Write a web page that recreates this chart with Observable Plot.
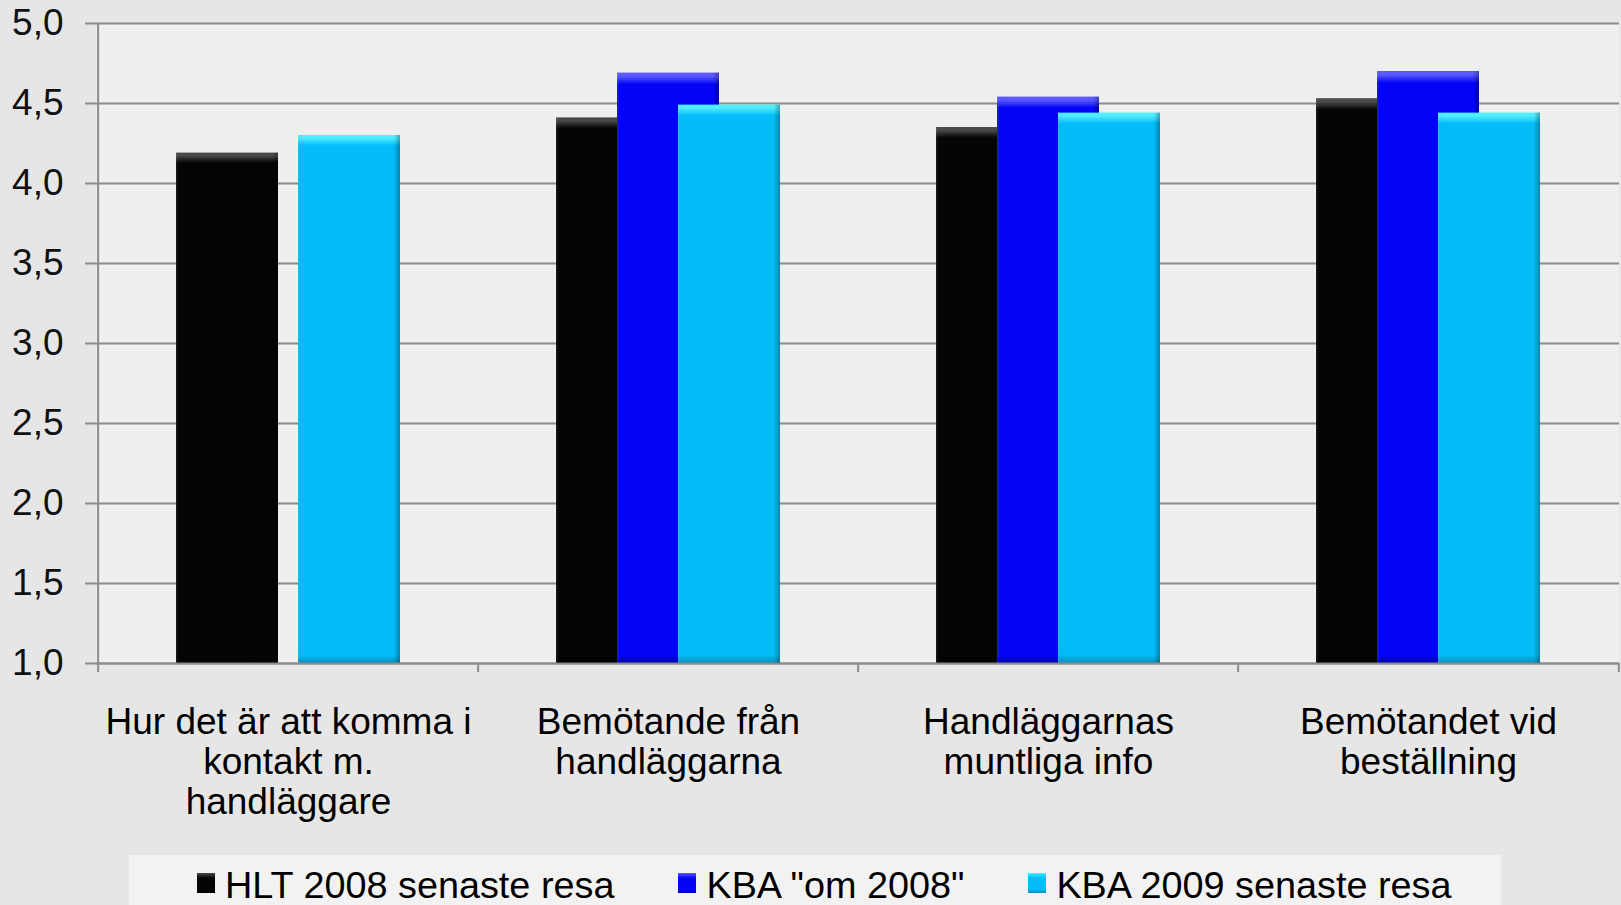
<!DOCTYPE html>
<html><head><meta charset="utf-8">
<script src="https://cdn.jsdelivr.net/npm/d3@7"></script>
<script src="https://cdn.jsdelivr.net/npm/@observablehq/plot@0.6"></script>
<style>
html,body{margin:0;padding:0;background:#e6e6e6;overflow:hidden}
body{font-family:'Liberation Sans',Arial,sans-serif;width:1621px;height:905px}
#chart svg{display:block}
#legend{margin-left:129px;width:1372px;height:50px;background:#f2f2f2;display:flex;align-items:flex-start;padding-left:68px;padding-top:9px;box-sizing:border-box;overflow:hidden}
.item{display:flex;align-items:flex-start;margin-right:64px;font-size:37.8px;line-height:42px;color:#000;white-space:pre}
.sw{width:18px;height:20px;margin-top:9px;margin-right:10px;box-sizing:border-box}
</style></head><body>
<div id="chart"></div>
<div id="legend"></div>
<script>
// ---- data ----
const categories = [
  "Hur det är att komma i\nkontakt m.\nhandläggare",
  "Bemötande från\nhandläggarna",
  "Handläggarnas\nmuntliga info",
  "Bemötandet vid\nbeställning"
];
const seriesNames = ["HLT 2008 senaste resa", "KBA \"om 2008\"", "KBA 2009 senaste resa"];
const hlt2008 = [4.19, 4.41, 4.35, 4.53];
const kbaOm2008 = [null, 4.69, 4.54, 4.70];
const kba2009 = [4.30, 4.49, 4.44, 4.44];
const yTicks = [1.0, 1.5, 2.0, 2.5, 3.0, 3.5, 4.0, 4.5, 5.0];

// ---- styles ----
const seriesColors = [
  {base: "#050505", light: "#4a4a4a", dark: "#000000"},
  {base: "#0404f6", light: "#5a5aff", dark: "#0000b0"},
  {base: "#03bcf8", light: "#50ecff", dark: "#0390c0"}
];
const offsets = [-61, 0, 61];
const gridColor = "#8c8c8c";

const seriesValues = [hlt2008, kbaOm2008, kba2009];
const rows = [];
seriesValues.forEach((vals, s) => vals.forEach((v, i) => {
  if (v != null) rows.push({cat: categories[i], series: s, value: v});
}));

const W = 1621, H = 855, mL = 96, mR = 2, mT = 23, mB = 192;
const step = (W - mL - mR) / categories.length;
const bw = 102;
const pInner = 1 - bw / step;

const marks = [
  Plot.frame({fill: "#efefef", stroke: "none"}),
  Plot.gridY(yTicks, {stroke: gridColor, strokeOpacity: 1, strokeWidth: 2}),
  Plot.ruleX([categories[0]], {x: d => d, dx: -step / 2, stroke: gridColor, strokeWidth: 2}),
  Plot.ruleX(categories, {x: d => d, dx: -step / 2, y1: () => yTicks[0], y2: () => yTicks[0], insetBottom: -9, stroke: gridColor, strokeWidth: 2}),
  Plot.ruleX([categories[categories.length - 1]], {x: d => d, dx: step / 2, y1: () => yTicks[0], y2: () => yTicks[0], insetBottom: -9, stroke: gridColor, strokeWidth: 2})
];
seriesValues.forEach((_, s) => {
  const data = rows.filter(r => r.series === s);
  marks.push(Plot.barY(data, {x: "cat", y1: () => yTicks[0], y2: "value", dx: offsets[s], fill: `url(#gv${s})`}));
  marks.push(Plot.barY(data, {x: "cat", y1: () => yTicks[0], y2: "value", dx: offsets[s], fill: "url(#gh)"}));
});
marks.push(Plot.ruleY([yTicks[0]], {stroke: gridColor, strokeWidth: 2}));
marks.push(Plot.axisY(yTicks, {
  label: null,
  tickFormat: d => d.toFixed(1).replace(".", ","),
  tickSize: 11, tickPadding: 22, fontSize: 37, stroke: gridColor, strokeWidth: 2, color: "#111"
}));
marks.push(Plot.text(categories, {
  x: d => d, text: d => d, frameAnchor: "bottom", dy: 42, lineAnchor: "top",
  lineHeight: 40 / 37, fontSize: 37, fill: "#000", textAnchor: "middle"
}));

const chart = Plot.plot({
  width: W, height: H,
  marginLeft: mL, marginRight: mR, marginTop: mT, marginBottom: mB,
  style: {background: "transparent", fontFamily: "'Liberation Sans', Arial, sans-serif", fontSize: "37px", color: "#111", overflow: "visible"},
  x: {domain: categories, paddingInner: pInner, paddingOuter: pInner / 2, axis: null},
  y: {domain: [yTicks[0], yTicks[yTicks.length - 1]], axis: null, label: null},
  marks
});

// gradient defs
const defs = d3.select(chart).insert("defs", ":first-child");
seriesColors.forEach((c, s) => {
  const g = defs.append("linearGradient").attr("id", `gv${s}`).attr("x1", 0).attr("y1", 0).attr("x2", 0).attr("y2", 1);
  [[0, c.light], [0.006, c.light], [0.02, c.base], [0.985, c.base], [1, c.dark]].forEach(([o, col]) =>
    g.append("stop").attr("offset", o).attr("stop-color", col));
});
const gh = defs.append("linearGradient").attr("id", "gh").attr("x1", 0).attr("y1", 0).attr("x2", 1).attr("y2", 0);
[[0, "255,255,255", 0.1], [0.04, "0,0,0", 0], [0.94, "0,0,0", 0], [1, "0,0,0", 0.3]].forEach(([o, rgb, a]) => {
  gh.append("stop").attr("offset", o).attr("stop-color", `rgb(${rgb})`).attr("stop-opacity", a);
});

document.getElementById("chart").appendChild(chart);

// legend
const legend = document.getElementById("legend");
seriesNames.forEach((name, s) => {
  const item = document.createElement("div");
  item.className = "item";
  const sw = document.createElement("div");
  sw.className = "sw";
  const c = seriesColors[s];
  sw.style.background = `linear-gradient(to bottom, ${c.light} 0, ${c.base} 5px, ${c.base} 16px, ${c.dark} 20px)`;
  const t = document.createElement("span");
  t.textContent = name;
  item.appendChild(sw);
  item.appendChild(t);
  legend.appendChild(item);
});
</script>
</body></html>
